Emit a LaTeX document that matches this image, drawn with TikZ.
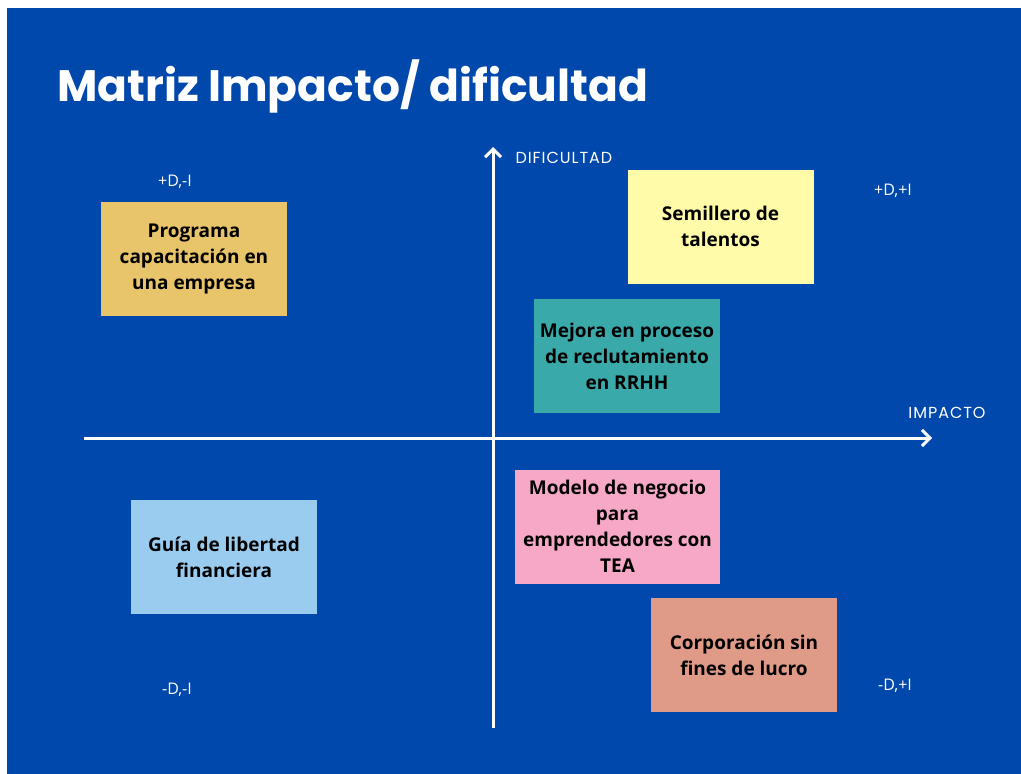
\documentclass[tikz,border=0pt]{standalone}
\usepackage{fontspec}
\setmainfont{Open Sans}
\newfontfamily\titlefont{Poppins}
\newfontfamily\axisfont[LetterSpace=6]{Poppins}
\usetikzlibrary{arrows.meta}

\definecolor{fondo}{RGB}{0,72,171}
\definecolor{amarillo}{RGB}{232,196,106}
\definecolor{crema}{RGB}{255,251,168}
\definecolor{verdeazul}{RGB}{58,169,169}
\definecolor{rosado}{RGB}{247,168,198}
\definecolor{celeste}{RGB}{154,204,240}
\definecolor{salmon}{RGB}{224,154,136}

\begin{document}
\begin{tikzpicture}[
		x=1pt,y=-1pt,
		nota/.style={
			rectangle,minimum width=186pt,minimum height=114pt,inner sep=0pt,
			align=center,
			font=\fontsize{19}{26}\selectfont\bfseries,text=black,
		},
		eje/.style={
			draw=white,line width=3pt,-{Straight Barb[length=8pt,width=16pt,line width=3pt]},
		},
		rotulo/.style={
			text=white,font=\axisfont\fontsize{16}{18}\selectfont,
		},
		etiqueta/.style={
			text=white,font=\fontsize{16}{18}\selectfont,
		},
	]

	% fondo azul
	\useasboundingbox (0,0) rectangle (1021,774);
	\fill[fondo] (7,8) rectangle (1021,774);

	\node[anchor=base west,inner sep=0pt,text=white,
		font=\titlefont\fontsize{44}{48}\selectfont\bfseries] (titulo) at (57,101) {Matriz Impacto/ dificultad};

	% ejes
	\coordinate (izq) at (84,438);
	\coordinate (der) at (932,438);
	\coordinate (abajo) at (493,728);
	\coordinate (arriba) at (493,147);
	\draw[eje] (izq) -- (der);
	\draw[eje] (abajo) -- (arriba);

	\node[rotulo,anchor=west] (dificultad) at (512,158) {DIFICULTAD};
	\node[rotulo] (impacto) at (947,413) {IMPACTO};

	% cuadrantes
	\node[etiqueta] (q-md-mi) at (175,182) {+D,-I};
	\node[etiqueta] (q-md-pi) at (893,191) {+D,+I};
	\node[etiqueta] (q-nd-mi) at (177,690) {-D,-I};
	\node[etiqueta] (q-nd-pi) at (895,686) {-D,+I};

	% notas
	\node[nota,fill=amarillo] (programa) at (194,259) {Programa\\capacitación en\\una empresa};
	\node[nota,fill=crema] (semillero) at (720.5,226.5) {Semillero de\\talentos};
	\node[nota,fill=verdeazul] (mejora) at (627,356) {Mejora en proceso\\de reclutamiento\\en RRHH};
	\node[nota,fill=rosado,minimum width=205pt] (modelo) at (617.5,526.5) {Modelo de negocio\\para\\emprendedores con\\TEA};
	\node[nota,fill=celeste] (guia) at (224,557) {Guía de libertad\\financiera};
	\node[nota,fill=salmon] (corporacion) at (744,655) {Corporación sin\\fines de lucro};

\end{tikzpicture}
\end{document}
